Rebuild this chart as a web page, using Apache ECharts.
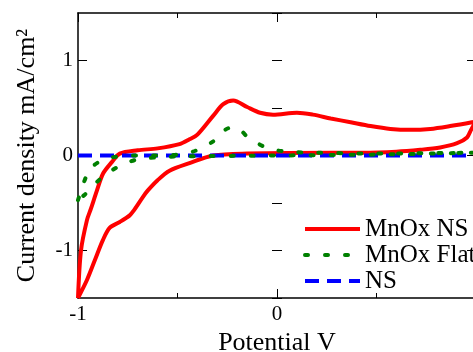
<!DOCTYPE html>
<html>
<head>
<meta charset="utf-8">
<script src="https://cdn.jsdelivr.net/npm/echarts@6/dist/echarts.min.js"></script>
<style>
  html, body { margin: 0; padding: 0; background: #fff; }
  #chart { width: 473px; height: 352px; }
</style>
</head>
<body>
<div id="chart"></div>
<script>
// MnOx NS: anodic sweep then cathodic sweep back to -1 V
const nsPotential = [
  -1.0, -0.985, -0.955, -0.935, -0.905, -0.874, -0.83, -0.79, -0.70, -0.60,
  -0.49, -0.44, -0.40, -0.32, -0.27, -0.22, -0.15, -0.085, -0.02, 0.10,
  0.18, 0.27, 0.37, 0.47, 0.57, 0.67, 0.77, 0.87, 0.98, 1.0,
  0.975, 0.955, 0.905, 0.82, 0.72, 0.60, 0.43, 0.27, -0.15, -0.32,
  -0.44, -0.54, -0.60, -0.65, -0.675, -0.72, -0.74, -0.79, -0.84, -0.875,
  -0.915, -0.955, -1.0
]
const nsCurrent = [
  -1.5, -1.0, -0.68, -0.56, -0.37, -0.19, -0.07, 0.02, 0.055, 0.075,
  0.12, 0.17, 0.22, 0.42, 0.54, 0.58, 0.51, 0.45, 0.43, 0.45,
  0.43, 0.39, 0.35, 0.31, 0.28, 0.27, 0.28, 0.31, 0.35, 0.36,
  0.27, 0.19, 0.13, 0.085, 0.06, 0.04, 0.03, 0.03, 0.02, 0.0,
  -0.08, -0.16, -0.26, -0.37, -0.44, -0.58, -0.63, -0.70, -0.76, -0.89,
  -1.1, -1.31, -1.5
]

// MnOx Flat
const flatPotential = [
  -1.0, -0.98, -0.955, -0.935, -0.88, -0.83, -0.75, -0.6, -0.5, -0.41,
  -0.32, -0.26, -0.22, -0.18, -0.145, -0.05, 0.05, 0.2, 0.5, 1.0,
  0.5, 0.0, -0.5, -0.6, -0.7, -0.8, -0.89, -0.965, -1.0
]
const flatCurrent = [
  -0.47, -0.34, -0.2, -0.13, -0.05, -0.02, 0.0, 0.0, 0.01, 0.05,
  0.15, 0.27, 0.3, 0.26, 0.19, 0.08, 0.04, 0.03, 0.02, 0.03,
  0.01, 0.0, -0.01, -0.02, -0.04, -0.12, -0.25, -0.41, -0.47
]

// NS (bare)
const barePotential = [-1.0, 0.0, 1.0]
const bareCurrent = [0.0, 0.0, 0.0]

const yTickLabels = { '-1': '-1', '0': '0', '1': '1' }
const xTickLabels = { '-1': '-1', '0': '0' }
const yMajorTicks = [-1, 0, 1]

const pairs = (xs, ys) => xs.map((x, i) => [x, ys[i]])

const font = "'Liberation Serif', 'Times New Roman', serif"

const tickLabel = map => v => {
  const k = String(Math.round(v * 100) / 100)
  return map[k] !== undefined ? map[k] : ''
}

const chart = echarts.init(document.getElementById('chart'), null, { renderer: 'canvas' })

const line = { show: true, onZero: false, lineStyle: { color: '#000', width: 1.5 } }
const tickStyle = { color: '#000', width: 1 }

// x: interval 1 from min -1, minor ticks at the halves
const xCommon = {
  type: 'value',
  min: -1, max: 1,
  interval: 1,
  axisLine: line,
  axisTick: { show: true, inside: true, length: 9, lineStyle: tickStyle },
  minorTick: { show: true, splitNumber: 2, length: 5, lineStyle: tickStyle },
  splitLine: { show: false },
  minorSplitLine: { show: false },
}

// y: long ticks at the integers, short ticks every 0.5 on an overlay axis
const yMain = {
  type: 'value',
  min: -1.5, max: 1.5,
  interval: 0.5,
  axisLine: line,
  axisTick: { show: true, inside: true, length: 9, customValues: yMajorTicks, lineStyle: tickStyle },
  splitLine: { show: false },
}
const yMinor = {
  type: 'value',
  min: -1.5, max: 1.5,
  interval: 0.5,
  offset: 0,
  axisLine: { show: false },
  axisTick: { show: true, inside: true, length: 5, lineStyle: tickStyle },
  axisLabel: { show: false },
  splitLine: { show: false },
}

chart.setOption({
  animation: false,
  backgroundColor: '#fff',
  textStyle: { fontFamily: font },
  grid: { left: 78, right: -3, top: 13, bottom: 54, containLabel: false, outerBoundsMode: 'none' },
  legend: {
    orient: 'vertical',
    left: 298,
    top: 211,
    itemWidth: 55,
    itemHeight: 12,
    itemGap: 0,
    itemStyle: { opacity: 0 },
    lineStyle: { width: 4 },
    textStyle: { fontFamily: font, fontSize: 25, color: '#000', lineHeight: 26 },
    data: ['MnOx NS', 'MnOx Flat', 'NS'],
  },
  xAxis: [
    {
      ...xCommon,
      position: 'bottom',
      name: 'Potential V',
      nameLocation: 'middle',
      nameGap: 30,
      nameTextStyle: { fontFamily: font, fontSize: 26, color: '#000' },
      axisLabel: {
        show: true, margin: 6, color: '#000', fontFamily: font, fontSize: 21,
        formatter: tickLabel(xTickLabels),
      },
    },
    {
      ...xCommon,
      position: 'top',
      axisLabel: { show: false },
    },
  ],
  yAxis: [
    {
      ...yMain,
      position: 'left',
      name: 'Current density mA/cm²',
      nameLocation: 'middle',
      nameGap: 38,
      nameTextStyle: { fontFamily: font, fontSize: 26, color: '#000' },
      axisLabel: {
        show: true, margin: 5, color: '#000', fontFamily: font, fontSize: 21,
        formatter: tickLabel(yTickLabels),
      },
    },
    {
      ...yMain,
      position: 'right',
      axisLabel: { show: false },
    },
    { ...yMinor, position: 'left' },
    { ...yMinor, position: 'right' },
  ],
  series: [
    {
      name: 'MnOx NS',
      type: 'line',
      z: 2,
      smooth: 0.3,
      symbol: 'none',
      lineStyle: { color: '#ff0000', width: 4 },
      itemStyle: { color: '#ff0000' },
      data: pairs(nsPotential, nsCurrent),
    },
    {
      name: 'MnOx Flat',
      type: 'line',
      z: 4,
      smooth: 0.3,
      symbol: 'none',
      lineStyle: { color: '#008000', width: 4, type: [3, 17], cap: 'round' },
      itemStyle: { color: '#008000' },
      data: pairs(flatPotential, flatCurrent),
    },
    {
      name: 'NS',
      type: 'line',
      z: 3,
      symbol: 'none',
      lineStyle: { color: '#0000ff', width: 4, type: [14, 8] },
      itemStyle: { color: '#0000ff' },
      data: pairs(barePotential, bareCurrent),
    },
  ],
})
</script>
</body>
</html>
